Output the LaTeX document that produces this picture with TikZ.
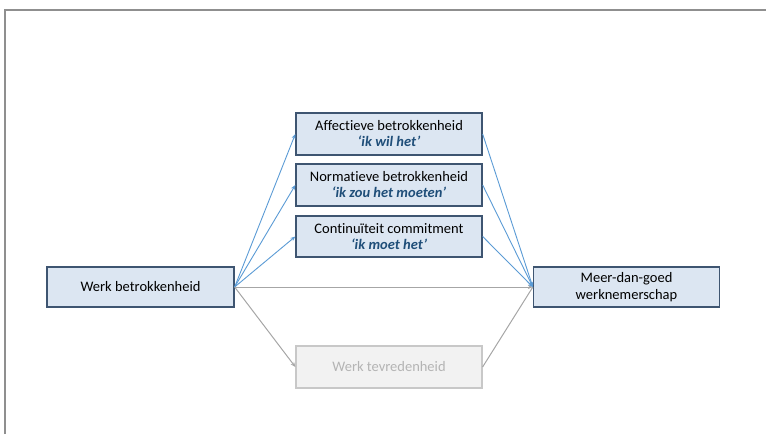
\documentclass[tikz,border=0pt]{standalone}
\usepackage{fontspec}
\setmainfont[Ligatures=NoCommon]{Carlito}
\usetikzlibrary{arrows.meta}
\definecolor{boxfill}{HTML}{DCE6F2}
\definecolor{boxline}{HTML}{3E5571}
\definecolor{quote}{HTML}{1F4E79}
\definecolor{bluearrow}{HTML}{5B9BD5}
\definecolor{grayarrow}{HTML}{A6A6A6}
\definecolor{fadefill}{HTML}{F2F2F2}
\definecolor{fadeline}{HTML}{C8C8C8}
\definecolor{fadetext}{HTML}{B4B4B4}
\definecolor{frameline}{HTML}{8F8F8F}
\tikzset{
  concept/.style={draw=boxline, line width=1.3pt, fill=boxfill, inner sep=0pt,
    align=center, font=\fontsize{14.5}{17}\selectfont, text=black},
  faded/.style={draw=fadeline, line width=1.2pt, fill=fadefill, inner sep=0pt,
    align=center, font=\fontsize{14.5}{17}\selectfont, text=fadetext},
  bluelink/.style={draw=bluearrow, line width=0.9pt, -{Stealth[length=5pt,width=4pt]}},
  graylink/.style={draw=grayarrow, line width=1pt, -{Stealth[length=5pt,width=4pt]}},
  grayplain/.style={draw=grayarrow, line width=1pt}
}
\newcommand{\quoteline}[1]{\\[-1pt]{\color{quote}\bfseries\itshape #1}}
\begin{document}
\begin{tikzpicture}[x=1pt,y=-1pt]
\useasboundingbox (0,0) rectangle (766,434);
% frame
\draw[frameline, line width=2pt] (4.5,434) -- (4.5,9.5) -- (766,9.5);

% boxes
\node[concept, minimum width=187pt, minimum height=40pt] (wb) at (140.5,287) {Werk betrokkenheid};
\node[concept, minimum width=186pt, minimum height=40pt] (mdg) at (626.5,287) {Meer-dan-goed\\werknemerschap};
\node[concept, minimum width=186pt, minimum height=42pt] (ab) at (389,134) {Affectieve betrokkenheid\quoteline{‘ik wil het’}};
\node[concept, minimum width=186pt, minimum height=42pt] (nb) at (389,185) {Normatieve betrokkenheid\quoteline{‘ik zou het moeten’}};
\node[concept, minimum width=186pt, minimum height=41pt] (cc) at (389,236.5) {Continuïteit commitment\quoteline{‘ik moet het’}};
\node[faded, minimum width=186pt, minimum height=42pt] (wt) at (389,367) {Werk tevredenheid};

% connectors
\draw[bluelink] (wb.east) -- (ab.west);
\draw[bluelink] (wb.east) -- (nb.west);
\draw[bluelink] (wb.east) -- (cc.west);
\draw[graylink] (wb.east) -- (mdg.west);
\draw[graylink] (wb.east) -- (wt.west);
\draw[grayplain] (wt.east) -- (mdg.west);
\draw[bluelink] (ab.east) -- (mdg.west);
\draw[bluelink] (nb.east) -- (mdg.west);
\draw[bluelink] (cc.east) -- (mdg.west);
\end{tikzpicture}
\end{document}
